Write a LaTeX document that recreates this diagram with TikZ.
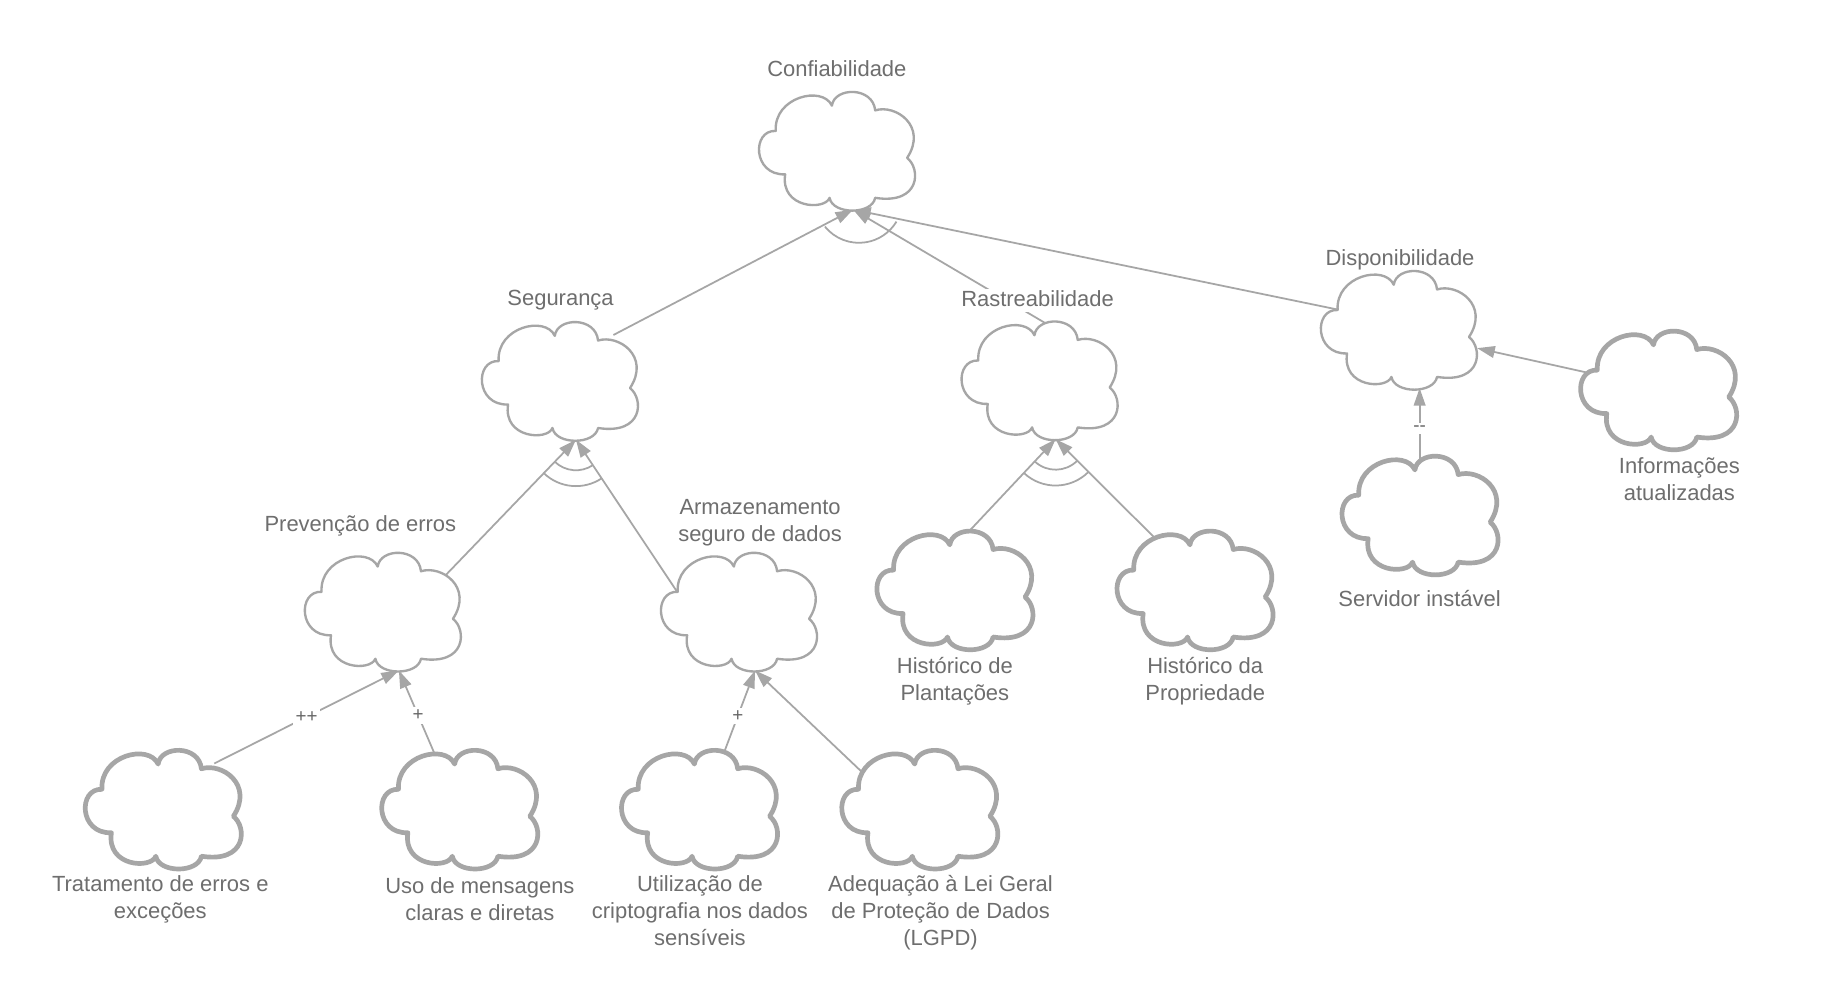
\documentclass[tikz,border=0pt]{standalone}
\usepackage{fontspec}
\setmainfont{Liberation Sans}
\usetikzlibrary{arrows.meta,calc}
\pgfdeclarelayer{bg}
\pgfsetlayers{bg,main}
\definecolor{ln}{HTML}{A6A6A6}
\definecolor{tx}{HTML}{6E6E6E}
\definecolor{etx}{HTML}{666666}
\tikzset{
  pics/cloud/.style={code={
    \draw[#1, xscale=67, yscale=-50] (-0.774,0.34)
      .. controls (-0.80,0.92) and (-0.18,1.12) .. (-0.06,0.77)
      .. controls (-0.03,1.09) and (0.46,1.10) .. (0.49,0.69)
      .. controls (0.75,0.80) and (1.16,0.42) .. (0.896,-0.12)
      .. controls (1.07,-0.30) and (1.07,-0.92) .. (0.49,-0.80)
      .. controls (0.45,-1.09) and (-0.05,-1.09) .. (-0.09,-0.80)
      .. controls (-0.15,-1.02) and (-0.72,-0.98) .. (-0.654,-0.40)
      .. controls (-1.07,-0.42) and (-1.08,0.36) .. cycle;
  }},
  thincl/.style={draw=ln, line width=2pt, fill=white, line join=round},
  thickcl/.style={draw=ln, line width=4pt, fill=white, line join=round},
  cbox/.style={inner sep=0pt, minimum width=134pt, minimum height=100pt, draw=none},
  lab/.style={font=\fontsize{18.7}{23}\selectfont, text=tx, align=center, inner sep=1pt, text depth=4pt},
  elab/.style={font=\fontsize{16}{18}\selectfont, text=etx, fill=white, inner sep=2.5pt},
  conn/.style={draw=ln, line width=1.5pt, -{Triangle[length=15pt,width=10pt]}, fill=none},
  arcl/.style={draw=ln, line width=1.5pt},
}
\begin{document}
\begin{tikzpicture}[x=1pt,y=-1pt]
\begin{pgfonlayer}{bg}
\fill[white] (0,0) rectangle (1567,850);
\end{pgfonlayer}
\useasboundingbox (0,0) rectangle (1567,850);

% clouds
\node[cbox] (conf) at (712.5,128.5) {};  \pic at (conf) {cloud=thincl};
\node[cbox] (seg)  at (476.5,324.5) {};  \pic at (seg)  {cloud=thincl};
\node[cbox] (rast) at (885,324) {};      \pic at (rast) {cloud=thincl};
\node[cbox] (disp) at (1191,281) {};     \pic at (disp) {cloud=thincl};
\node[cbox] (prev) at (325.7,521) {};    \pic at (prev) {cloud=thincl};
\node[cbox] (arm)  at (629,521) {};      \pic at (arm)  {cloud=thincl};
\node[cbox] (hd)   at (812.9,502.5) {};  \pic at (hd)   {cloud=thickcl};
\node[cbox] (hda)  at (1017.4,502.5) {}; \pic at (hda)  {cloud=thickcl};
\node[cbox] (serv) at (1209,438.7) {};   \pic at (serv) {cloud=thickcl};
\node[cbox] (info) at (1412.2,332.2) {}; \pic at (info) {cloud=thickcl};
\node[cbox] (trat) at (138.7,689.2) {};  \pic at (trat) {cloud=thickcl};
\node[cbox] (uso)  at (391.2,689.2) {};  \pic at (uso)  {cloud=thickcl};
\node[cbox] (util) at (595.4,689.2) {};  \pic at (util) {cloud=thickcl};
\node[cbox] (adeq) at (783,689.2) {};    \pic at (adeq) {cloud=thickcl};

% tips
\coordinate (conftip) at ($(conf)+(14,50)$);
\coordinate (segtip)  at ($(seg)+(14,50)$);
\coordinate (rasttip) at ($(rast)+(14,50)$);
\coordinate (prevtip) at ($(prev)+(14,50)$);
\coordinate (armtip)  at ($(arm)+(14,50)$);
\coordinate (disptipb) at ($(disp)+(18,49.5)$);
\coordinate (disptipr) at ($(disp)+(67,15.5)$);

% labels
\node[lab] (tconf) at (712.7,60) {Confiabilidade};
\node[lab] (tseg)  at (477.4,256) {Segurança};
\node[lab, fill=white] (trast) at (883.6,256) {Rastreabilidade};
\node[lab] (tdisp) at (1192.3,221.5) {Disponibilidade};
\node[lab] (tprev) at (306.9,447.8) {Prevenção de erros};
\node[lab] (tarm)  at (647.3,445.2) {Armazenamento\\seguro de dados};
\node[lab] (thd)   at (813.2,580.4) {Histórico de\\Plantações};
\node[lab] (thda)  at (1026.4,580.4) {Histórico da\\Propriedade};
\node[lab] (tserv) at (1209,511.6) {Servidor instável};
\node[lab] (tinfo) at (1430.2,410) {Informações\\atualizadas};
\node[lab] (ttrat) at (136.5,766.2) {Tratamento de erros e\\exceções};
\node[lab] (tuso)  at (408.7,767.5) {Uso de mensagens\\claras e diretas};
\node[lab] (tutil) at (596.1,777.4) {Utilização de\\criptografia nos dados\\sensíveis};
\node[lab] (tadeq) at (801,777.4) {Adequação à Lei Geral\\de Proteção de Dados\\(LGPD)};

% connectors
\begin{pgfonlayer}{bg}
\draw[conn] ($(seg)+(45.9,-39.2)$) -- (conftip);
\draw[conn] ($(rast)+(10,-46)$) -- (conftip);
\draw[conn] ($(disp)+(-50,-17)$) -- (conftip);
\draw[conn] ($(prev)+(53.2,-30.5)$) -- (segtip);
\draw[conn] ($(arm)+(-52.4,-17.1)$) -- (segtip);
\draw[conn] ($(hd)+(11.3,-48.9)$) -- (rasttip);
\draw[conn] ($(hda)+(-32.9,-43.3)$) -- (rasttip);
\draw[conn] ($(trat)+(43.8,-39)$) -- node[elab,pos=0.5] (l1) {++} (prevtip);
\draw[conn] ($(uso)+(-21.2,-47.5)$) -- node[elab,pos=0.46] (l2) {+} (prevtip);
\draw[conn] ($(util)+(22,-50.4)$) -- node[elab,pos=0.43] (l3) {+} (armtip);
\draw[conn] ($(adeq)+(-48.5,-31.3)$) -- (armtip);
\draw[conn] ($(serv)+(0,-30)$) -- node[elab,pos=0.56] (l4) {{-}{-}} (disptipb);
\draw[conn] ($(info)+(-58.8,-14.5)$) -- (disptipr);
\end{pgfonlayer}

% decomposition arcs
\draw[arcl] ($(conftip)+(5,-9)+(141:37.3)$) arc[start angle=141, end angle=31, radius=37.3];
\draw[arcl] ($(segtip)+(134:26)$) arc[start angle=134, end angle=56, radius=26];
\draw[arcl] ($(segtip)+(134:39.5)$) arc[start angle=134, end angle=56, radius=39.5];
\draw[arcl] ($(rasttip)+(133:26)$) arc[start angle=133, end angle=45, radius=26];
\draw[arcl] ($(rasttip)+(133:39.5)$) arc[start angle=133, end angle=45, radius=39.5];
\end{tikzpicture}
\end{document}
